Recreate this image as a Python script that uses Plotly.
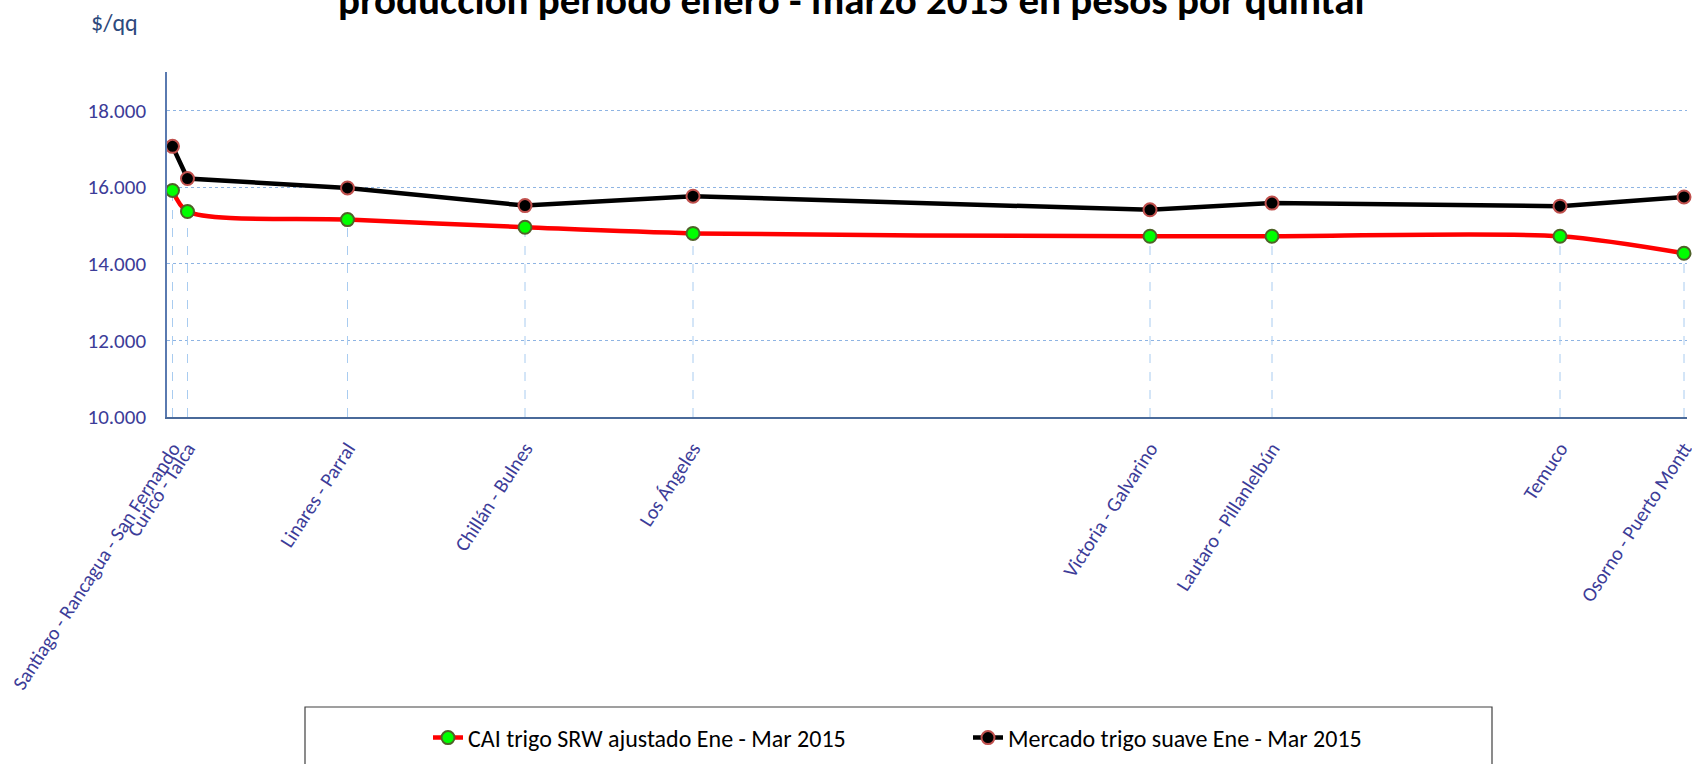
import plotly.graph_objects as go

# ---- data ----
zones = ["Santiago - Rancagua - San Fernando", "Curicó - Talca", "Linares - Parral",
         "Chillán - Bulnes", "Los Ángeles", "Victoria - Galvarino",
         "Lautaro - Pillanlelbún", "Temuco", "Osorno - Puerto Montt"]
zone_pos = [5.5, 20.5, 180.5, 358, 526, 983, 1105, 1393, 1517]
cai_srw = [15910, 15360, 15150, 14950, 14790, 14715, 14715, 14715, 14270]
mercado = [17060, 16220, 15975, 15515, 15760, 15405, 15580, 15500, 15740]
y_ticks = [10000, 12000, 14000, 16000, 18000]
name_cai = "CAI trigo SRW ajustado Ene - Mar 2015"
name_mer = "Mercado trigo suave Ene - Mar 2015"
title_text = "producción período enero - marzo 2015 en pesos por quintal"
y_unit = "$/qq"

Y_MIN, Y_MAX = 10000, 19000
X_MIN, X_MAX = 0, 1520

FONT = "Carlito, Calibri, Lato, sans-serif"
TICK_COLOR = "#3C3C98"

fig = go.Figure()

# drop lines from the CAI series down to the category axis
drop_x, drop_y = [], []
for xv, yv in zip(zone_pos, cai_srw):
    drop_x += [xv, xv, None]
    drop_y += [Y_MIN, yv, None]
fig.add_trace(go.Scatter(x=drop_x, y=drop_y, mode="lines",
                         line=dict(color="#A9CCF0", width=1, dash="dash"),
                         showlegend=False, hoverinfo="skip"))

fig.add_trace(go.Scatter(x=zone_pos, y=cai_srw, name=name_cai, mode="lines+markers",
                         line=dict(color="#FF0000", width=4.5, shape="spline", smoothing=0.8),
                         marker=dict(size=13, color="#00FF00", line=dict(color="#4F6228", width=2)),
                         cliponaxis=False))
fig.add_trace(go.Scatter(x=zone_pos, y=mercado, name=name_mer, mode="lines+markers",
                         line=dict(color="#000000", width=4.5),
                         marker=dict(size=13, color="#000000", line=dict(color="#C0504D", width=2)),
                         cliponaxis=False))

W, H = 1692, 764
L, R, T, B = 167, 5, 72, 347
pw, ph = W - L - R, H - T - B

def px_x(px):
    return (px - L) / pw

def px_y(py):
    return (H - B - py) / ph

fig.update_layout(
    width=W, height=H,
    margin=dict(l=L, r=R, t=T, b=B, autoexpand=False),
    paper_bgcolor="white", plot_bgcolor="white",
    separators=",.",
    font=dict(family=FONT, color=TICK_COLOR),
    showlegend=True,
    legend=dict(orientation="h", x=px_x(428), y=px_y(738), xanchor="left", yanchor="middle",
                font=dict(family=FONT, size=24, color="#000000"),
                entrywidth=495, entrywidthmode="pixels",
                bgcolor="rgba(0,0,0,0)", traceorder="normal"),
    xaxis=dict(range=[X_MIN, X_MAX], tickmode="array", tickvals=zone_pos, ticktext=zones,
               tickangle=-57, showgrid=False, zeroline=False, automargin=False,
               showline=True, linecolor="#4A6A9A", linewidth=2,
               ticks="", ticklabelstandoff=10, ticklabeloverflow="allow",
               tickfont=dict(family=FONT, size=20, color=TICK_COLOR)),
    yaxis=dict(range=[Y_MIN, Y_MAX], tickmode="array", tickvals=y_ticks, tickformat=",d",
               showgrid=True, gridcolor="#8EB4E3", griddash="dot", gridwidth=1,
               zeroline=False, showline=True, linecolor="#5A7AB0", linewidth=1.5,
               automargin=False, ticks="", ticklabelstandoff=15,
               tickfont=dict(family=FONT, size=21, color=TICK_COLOR)),
    shapes=[dict(type="rect", xref="paper", yref="paper",
                 x0=px_x(305), x1=px_x(1492), y0=px_y(707), y1=px_y(800),
                 line=dict(color="#404040", width=1.2), fillcolor="rgba(0,0,0,0)", layer="below")],
    annotations=[
        dict(text=y_unit, xref="paper", yref="paper", x=px_x(114), y=px_y(22),
             xanchor="center", yanchor="middle", showarrow=False,
             font=dict(family=FONT, size=24, color="#2E4A7D")),
        dict(text="<b>" + title_text + "</b>", xref="paper", yref="paper",
             x=px_x(851), y=px_y(0), xanchor="center", yanchor="middle", showarrow=False,
             font=dict(family=FONT, size=41, color="#000000")),
    ],
)

fig.write_html("out.html", config={"displayModeBar": False},
               post_script="document.body.style.margin='0px';document.body.style.overflow='hidden';")
